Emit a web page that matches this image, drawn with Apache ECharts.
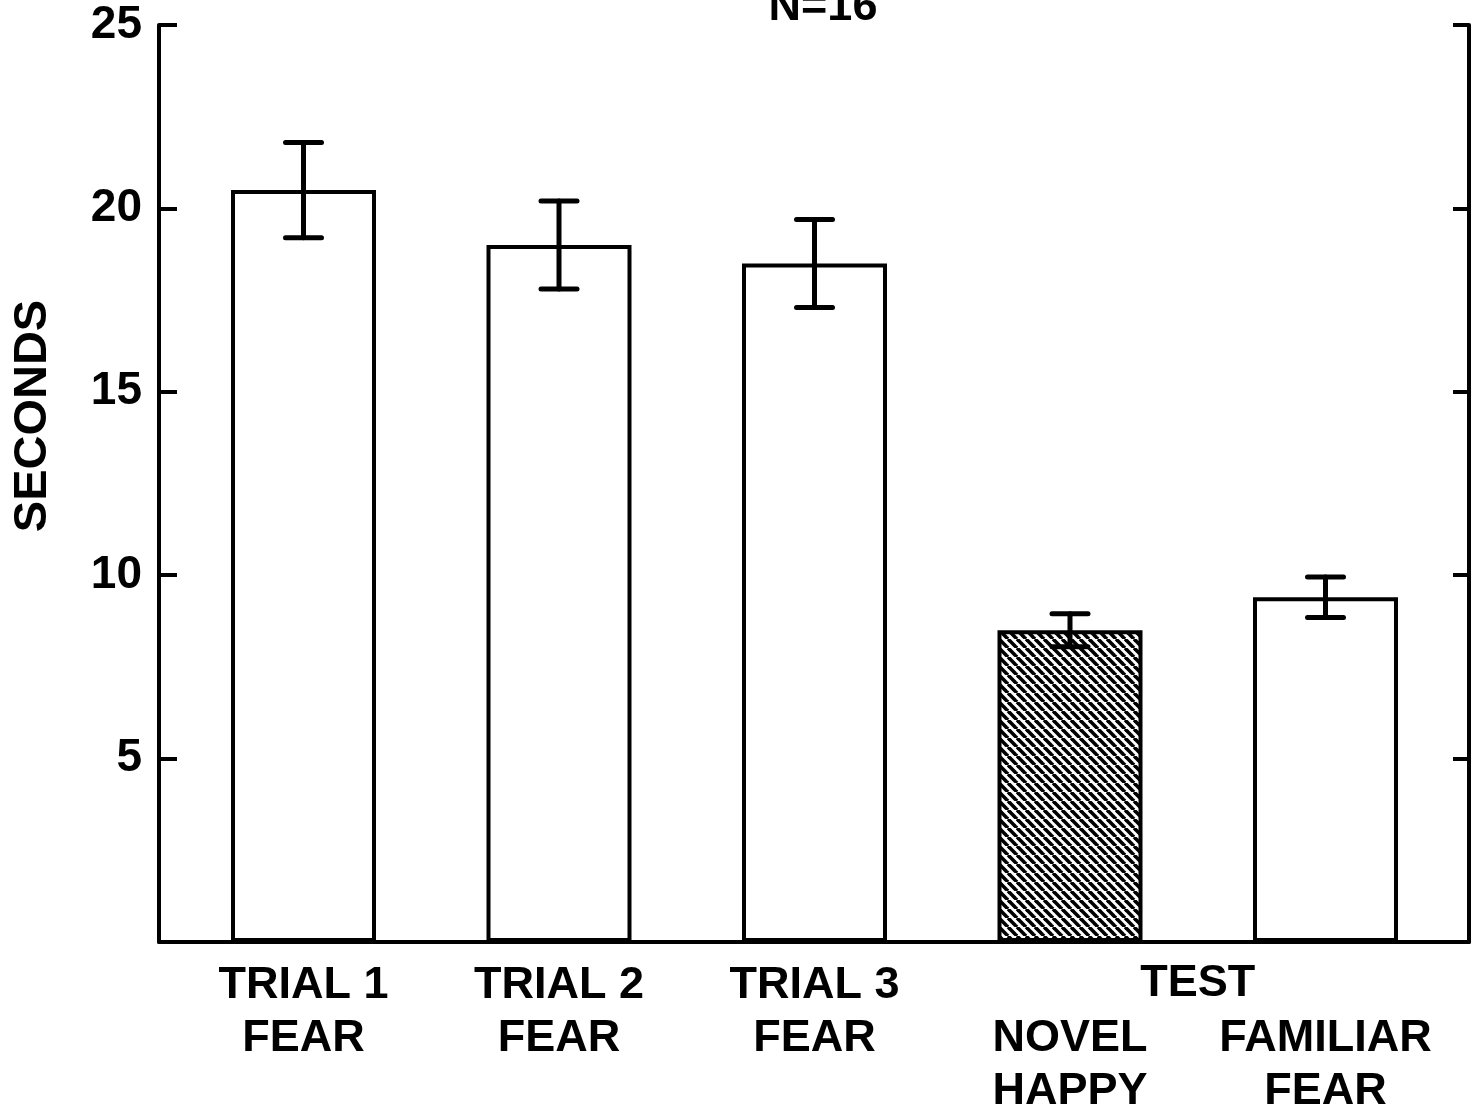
<!DOCTYPE html>
<html>
<head>
<meta charset="utf-8">
<script src="https://cdn.jsdelivr.net/npm/echarts@6/dist/echarts.min.js"></script>
<style>
  html, body { margin: 0; padding: 0; background: #fff; }
  #chart { width: 1476px; height: 1113px; }
</style>
</head>
<body>
<div id="chart"></div>
<script>
// data
const categories = ['TRIAL 1\nFEAR', 'TRIAL 2\nFEAR', 'TRIAL 3\nFEAR', 'NOVEL\nHAPPY', 'FAMILIAR\nFEAR'];
const meanSeconds = [20.5, 19.0, 18.5, 8.5, 9.4];
const errSeconds = [1.3, 1.2, 1.2, 0.45, 0.55];
const testGroup = 'TEST';
const testIndex = [3, 4];
const hatchedIndex = 3;
const yTicks = { min: 0, max: 25, interval: 5 };
const titleText = 'N=16';
const yName = 'SECONDS';

const FONT = '"Liberation Sans", Arial, Helvetica, sans-serif';
const INK = '#000';

// diagonal hatching (top-left to bottom-right)
function makeHatch() {
    const s = 9;
    const c = document.createElement('canvas');
    c.width = s; c.height = s;
    const ctx = c.getContext('2d');
    ctx.fillStyle = '#fff';
    ctx.fillRect(0, 0, s, s);
    ctx.strokeStyle = INK;
    ctx.lineWidth = 3.6;
    for (let k = -1; k <= 1; k++) {
        ctx.beginPath();
        ctx.moveTo(k * s, 0);
        ctx.lineTo(k * s + s, s);
        ctx.stroke();
    }
    return c;
}

const chart = echarts.init(document.getElementById('chart'));

const barData = meanSeconds.map((v, i) => ({
    value: v,
    itemStyle: i === hatchedIndex
        ? { color: { image: makeHatch(), repeat: 'repeat' } }
        : { color: '#fff' }
}));
const errData = meanSeconds.map((v, i) => [i, v - errSeconds[i], v + errSeconds[i]]);

const option = {
    backgroundColor: '#fff',
    animation: false,
    title: {
        text: titleText,
        left: 823,
        top: -15,
        padding: 0,
        textAlign: 'center',
        textStyle: { fontFamily: FONT, fontSize: 45, fontWeight: 'bold', color: INK }
    },
    grid: [
        // frame with the axes
        { left: 159, right: 7, top: 25, bottom: 171, containLabel: false, outerBoundsMode: 'none' },
        // bars area
        { left: 175.75, right: 22.75, top: 25, bottom: 171, containLabel: false, outerBoundsMode: 'none' }
    ],
    xAxis: [
        {
            gridIndex: 0, type: 'value', min: 0, max: 1,
            axisLine: { show: true, onZero: false, lineStyle: { color: INK, width: 4 } },
            axisTick: { show: false }, axisLabel: { show: false }, splitLine: { show: false }
        },
        {
            gridIndex: 1, type: 'category', data: categories,
            axisLine: { show: false }, axisTick: { show: false },
            axisLabel: {
                margin: 17,
                interval: 0,
                color: INK,
                fontFamily: FONT,
                fontSize: 45,
                fontWeight: 'bold',
                lineHeight: 53,
                formatter: (v, i) => (testIndex.includes(i) ? '\n' + v : v)
            }
        }
    ],
    yAxis: [
        {
            gridIndex: 0, type: 'value', position: 'left',
            min: yTicks.min, max: yTicks.max, interval: yTicks.interval,
            axisLine: { show: true, lineStyle: { color: INK, width: 4 } },
            axisTick: { show: true, inside: true, length: 18, lineStyle: { color: INK, width: 4 } },
            axisLabel: {
                margin: 17, color: INK, fontFamily: FONT, fontSize: 46, fontWeight: 'bold',
                formatter: v => (v === 0 ? '' : String(v))
            },
            splitLine: { show: false }
        },
        {
            gridIndex: 0, type: 'value', position: 'right',
            min: yTicks.min, max: yTicks.max, interval: yTicks.interval,
            axisLine: { show: true, lineStyle: { color: INK, width: 4 } },
            axisTick: { show: true, inside: true, length: 16, lineStyle: { color: INK, width: 4 } },
            axisLabel: { show: false },
            splitLine: { show: false }
        },
        {
            gridIndex: 1, type: 'value', show: false,
            min: yTicks.min, max: yTicks.max
        }
    ],
    series: [
        {
            type: 'bar',
            xAxisIndex: 1,
            yAxisIndex: 2,
            barWidth: 145,
            data: barData,
            itemStyle: { borderColor: INK, borderWidth: 4 }
        },
        {
            type: 'custom',
            xAxisIndex: 1,
            yAxisIndex: 2,
            z: 5,
            data: errData,
            renderItem: function (params, api) {
                const lo = api.coord([api.value(0), api.value(1)]);
                const hi = api.coord([api.value(0), api.value(2)]);
                const half = 18;
                const style = { stroke: INK, lineWidth: 5, lineCap: 'round' };
                return {
                    type: 'group',
                    children: [
                        { type: 'line', shape: { x1: hi[0], y1: hi[1], x2: lo[0], y2: lo[1] }, style: style },
                        { type: 'line', shape: { x1: hi[0] - half, y1: hi[1], x2: hi[0] + half, y2: hi[1] }, style: style },
                        { type: 'line', shape: { x1: lo[0] - half, y1: lo[1], x2: lo[0] + half, y2: lo[1] }, style: style }
                    ]
                };
            }
        }
    ]
};

chart.setOption(option);

// group label under the two test bars, and the rotated y title
const p0 = chart.convertToPixel({ xAxisIndex: 1 }, categories[testIndex[0]]);
const p1 = chart.convertToPixel({ xAxisIndex: 1 }, categories[testIndex[1]]);
chart.setOption({
    graphic: [
        {
            type: 'text',
            x: (p0 + p1) / 2,
            y: 984,
            style: {
                text: testGroup, fill: INK, font: 'bold 45px ' + FONT,
                align: 'center', verticalAlign: 'middle'
            }
        },
        {
            type: 'text',
            x: 33,
            y: 416,
            rotation: Math.PI / 2,
            style: {
                text: yName, fill: INK, font: 'bold 47px ' + FONT,
                align: 'center', verticalAlign: 'middle'
            }
        }
    ]
});

window.addEventListener('resize', function () {
    chart.resize();
});
</script>
</body>
</html>
